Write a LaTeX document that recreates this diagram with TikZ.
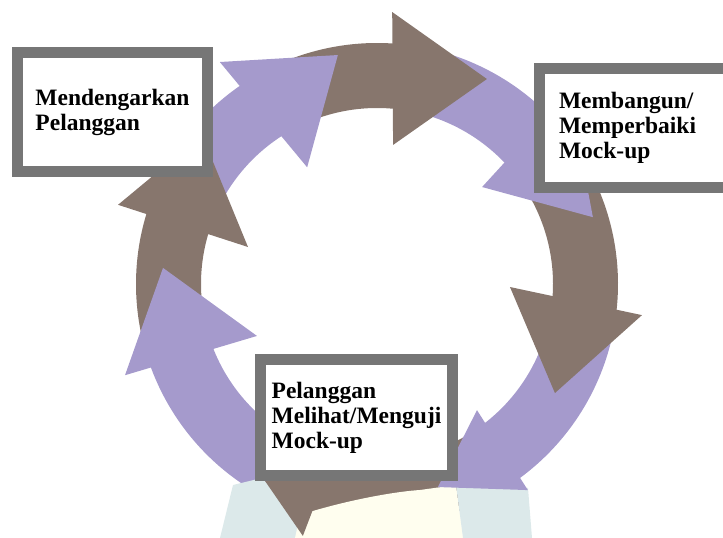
\documentclass[tikz,border=0pt]{standalone}
\usepackage{fontspec}
\setmainfont{Liberation Serif}
\usetikzlibrary{positioning}
\definecolor{ringpurple}{RGB}{165,154,204}
\definecolor{ringbrown}{RGB}{135,118,109}
\definecolor{boxgray}{RGB}{118,118,118}
\definecolor{logocyan}{RGB}{220,233,234}
\definecolor{logoyellow}{RGB}{255,254,239}
\tikzstyle{stagebox} = [rectangle, draw=boxgray, line width=11pt, fill=white, inner sep=0pt, font=\fontsize{23.5}{25}\selectfont\bfseries, align=left]

\begin{document}
\begin{tikzpicture}[x=1pt, y=1pt]

    \useasboundingbox (0,0) rectangle (723,538);
    \clip (0,0) rectangle (723,538);

    % Ring of arrows (clockwise), centre of the ring
    \begin{scope}[shift={(377,254)}]
        % bodies: colour / tail angle / end angle
        \foreach \col/\from/\to in {ringpurple/157/120, ringbrown/116/82,
                                    ringpurple/78/41, ringbrown/36/-8,
                                    ringpurple/-11/-55.5, ringbrown/-58/-108,
                                    ringpurple/248/197, ringbrown/194/160}
            \fill[fill=\col] (\from:176pt) arc[start angle=\from, end angle=\to, radius=176pt]
                -- (\to:241pt) arc[start angle=\to, end angle=\from, radius=241pt] -- cycle;
    \end{scope}

    % faint logo over the bottom of the ring
    \fill[logocyan] (233,53) -- (262,60) -- (300,18) -- (300,0) -- (220,0) -- cycle;
    \fill[logoyellow] (295,0) -- (300,23) .. controls (340,36) and (390,46) .. (420,48) -- (456,53) -- (463,0) -- cycle;
    \fill[logocyan] (456,53) -- (528,50) -- (532,0) -- (463,0) -- cycle;

    \begin{scope}[shift={(377,254)}]
        % heads: colour / outer barb / tip / inner barb
        \foreach \col/\outer/\tip/\inner in {ringpurple/{125.3:272pt}/{99.7:232.3pt}/{120.9:136pt},
                                             ringbrown/{86.8:272.4pt}/{61.8:232.6pt}/{83.4:140pt},
                                             ringpurple/{45:272pt}/{17.2:226pt}/{42.7:143pt},
                                             ringbrown/{-6.7:266.8pt}/{-31.5:208.7pt}/{-1.3:133pt},
                                             ringpurple/{-53.8:255.4pt}/{-73.3:212pt}/{-51.6:161pt},
                                             ringbrown/{-106.4:262.6pt}/{-121.6:223pt}/{-103:150pt},
                                             ringpurple/{199.9:268pt}/{175.7:214.6pt}/{203.4:130.8pt},
                                             ringbrown/{163:270.8pt}/{139.6:229.8pt}/{164:134.2pt}}
            \fill[fill=\col] (\outer) -- (\tip) -- (\inner) -- cycle;
    \end{scope}

    % Stages
    \node (listen) [stagebox, minimum width=190pt, minimum height=119pt] at (112.5,426) {Mendengarkan\\Pelanggan};
    \node (build) [stagebox, minimum width=220.5pt, minimum height=119pt, text width=181.5pt] at (649.75,410) {Membangun/\\Memperbaiki\\Mock-up};
    \node (test) [stagebox, minimum width=192pt, minimum height=116pt] at (356.5,120.5) {Pelanggan\\Melihat/Menguji\\Mock-up};

\end{tikzpicture}
\end{document}
